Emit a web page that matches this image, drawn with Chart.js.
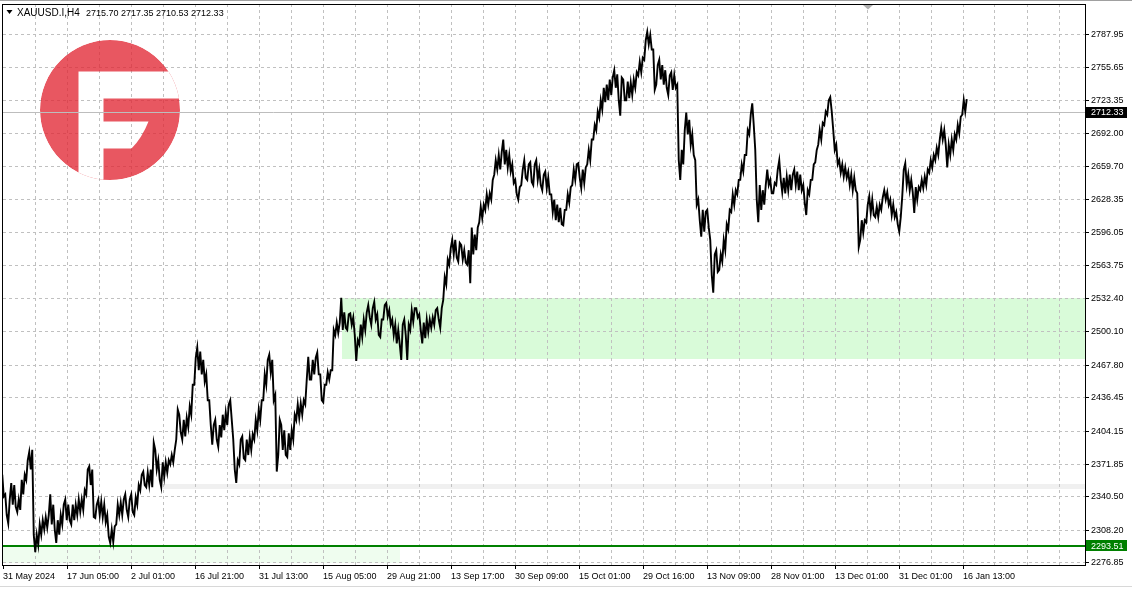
<!DOCTYPE html>
<html><head><meta charset="utf-8">
<script src="https://cdn.jsdelivr.net/npm/chart.js@4.4.1/dist/chart.umd.min.js"></script>
<style>html,body{margin:0;padding:0;background:#fff;overflow:hidden}#wrap{width:1132px;height:590px}</style>
</head><body><div id="wrap"><canvas id="c" width="1132" height="590"></canvas></div>
<script>
// ---------- data ----------
const symbol = 'XAUUSD.I,H4';
const headerOHLC = [2715.70, 2717.35, 2710.53, 2712.33];
const tickLabels = ['31 May 2024','17 Jun 05:00','2 Jul 01:00','16 Jul 21:00','31 Jul 13:00','15 Aug 05:00','29 Aug 21:00','13 Sep 17:00','30 Sep 09:00','15 Oct 01:00','29 Oct 16:00','13 Nov 09:00','28 Nov 01:00','13 Dec 01:00','31 Dec 01:00','16 Jan 13:00'];
const priceTicks = [2276.85,2308.20,2340.50,2371.85,2404.15,2436.45,2467.80,2500.10,2532.40,2563.75,2596.05,2628.35,2659.70,2692.00,2723.35,2755.65,2787.95];
const lows = [
2341,2323,2315,2333,2331,2326,2328,2343,2357,2367,
2304,2287,2294,2304,2309,2311,2314,2309,2296,2304,
2314,2318,2318,2314,2318,2323,2326,2328,2343,2352,
2321,2320,2323,2321,2316,2302,2296,2297,2314,2323,
2323,2328,2321,2326,2323,2333,2347,2352,2350,2352,
2350,2367,2357,2350,2360,2364,2372,2374,2396,2403,
2396,2399,2408,2420,2449,2463,2459,2452,2434,2410,
2391,2396,2389,2398,2405,2410,2415,2367,2354,2372,
2378,2376,2381,2386,2396,2405,2415,2434,2449,2461,
2434,2365,2381,2386,2381,2379,2386,2396,2415,2417,
2420,2430,2454,2454,2459,2459,2434,2432,2449,2454,
2463,2497,2499,2502,2504,2502,2507,2497,2472,2488,
2495,2502,2514,2507,2512,2497,2495,2512,2515,2507,
2497,2489,2488,2473,2497,2473,2502,2510,2514,2502,
2489,2494,2500,2504,2507,2512,2504,2531,2546,2565,
2575,2572,2568,2570,2567,2565,2547,2575,2579,2606,
2610,2618,2623,2628,2652,2657,2657,2662,2659,2655,
2644,2633,2628,2642,2649,2647,2645,2642,2647,2642,
2637,2639,2633,2616,2608,2606,2604,2603,2618,2625,
2642,2647,2649,2639,2644,2662,2666,2686,2695,2707,
2715,2722,2724,2729,2736,2724,2709,2724,2724,2726,
2729,2736,2748,2751,2763,2778,2773,2734,2739,2744,
2739,2736,2729,2734,2736,2666,2647,2662,2691,2681,
2671,2623,2608,2592,2597,2601,2555,2538,2558,2560,
2568,2579,2599,2616,2623,2633,2647,2655,2671,2691,
2700,2628,2606,2618,2623,2642,2634,2634,2642,2647,
2635,2634,2637,2637,2642,2637,2637,2625,2613,2633,
2647,2664,2681,2686,2700,2710,2713,2676,2662,2654,
2650,2649,2642,2637,2637,2582,2589,2596,2606,2615,
2613,2611,2611,2618,2628,2623,2613,2611,2604,2597,
2631,2642,2637,2635,2615,2628,2637,2639,2642,2654,
2659,2666,2671,2686,2681,2659,2671,2676,2686,2692,
2710,2713];
const highs = [
2362,2343,2338,2354,2352,2338,2357,2362,2376,2384,
2386,2304,2314,2318,2321,2323,2343,2333,2318,2323,
2333,2338,2333,2333,2333,2338,2338,2347,2367,2370,
2367,2333,2338,2336,2333,2323,2309,2312,2333,2335,
2338,2343,2338,2343,2340,2352,2362,2365,2364,2367,
2393,2386,2376,2374,2374,2376,2381,2386,2425,2420,
2415,2417,2428,2449,2475,2485,2481,2473,2459,2434,
2410,2415,2410,2420,2422,2430,2434,2396,2376,2396,
2399,2396,2398,2401,2415,2425,2434,2459,2473,2478,
2473,2439,2415,2410,2405,2402,2405,2420,2430,2431,
2434,2454,2476,2473,2475,2480,2459,2449,2461,2463,
2502,2509,2509,2533,2519,2517,2518,2514,2492,2507,
2512,2519,2526,2523,2529,2517,2512,2526,2528,2521,
2512,2507,2502,2507,2512,2507,2521,2523,2523,2517,
2509,2512,2512,2514,2521,2523,2523,2553,2570,2581,
2589,2589,2586,2584,2579,2579,2601,2594,2601,2621,
2623,2633,2634,2647,2666,2671,2674,2686,2676,2671,
2662,2647,2640,2657,2666,2662,2664,2662,2666,2657,
2652,2655,2649,2633,2628,2623,2620,2618,2633,2640,
2657,2662,2663,2657,2659,2676,2686,2700,2713,2724,
2736,2739,2744,2746,2753,2749,2746,2744,2742,2741,
2744,2751,2761,2765,2782,2790,2787,2773,2758,2763,
2758,2753,2748,2751,2748,2739,2676,2695,2712,2705,
2691,2666,2628,2618,2616,2618,2589,2575,2579,2575,
2589,2604,2618,2633,2637,2647,2662,2671,2695,2710,
2721,2676,2642,2637,2642,2657,2647,2644,2657,2666,
2649,2650,2652,2652,2657,2655,2652,2642,2637,2647,
2662,2676,2695,2702,2713,2724,2727,2695,2681,2666,
2662,2659,2655,2652,2649,2634,2608,2608,2623,2631,
2628,2621,2623,2630,2637,2635,2628,2623,2616,2611,
2657,2663,2652,2647,2640,2640,2647,2650,2657,2666,
2671,2678,2686,2697,2695,2681,2686,2691,2700,2708,
2724,2725];
const lastPrice = 2712.33;
const levelPrice = 2293.51;
const supplyZone = [2473.6, 2532.5];
const supplyZoneStartBar = 339;
const levelZone = [2277.0, 2293.51];
const levelZoneEndBar = 397;
const grayBand = [2348.2, 2353.0];
const grayBandStartBar = 160;

// ---------- layout constants ----------
const BARS_PER_SAMPLE = 3, GRID_STEP = 32, LABEL_STEP = 64, VISIBLE_BARS = 1082;
const FONT = 'Liberation Sans';
Chart.defaults.font.family = FONT;

// price path: each sample visits its low and high; order follows the direction of the next sample
const pathPoints = [];
lows.forEach((lo, i) => {
  const hi = highs[i];
  const nextMid = i + 1 < lows.length ? (lows[i + 1] + highs[i + 1]) / 2 : (lo + hi) / 2;
  const up = nextMid >= (lo + hi) / 2;
  const bar = i * BARS_PER_SAMPLE;
  pathPoints.push({x: bar - 0.75, y: up ? lo : hi});
  pathPoints.push({x: bar + 0.75, y: up ? hi : lo});
});

function drawLogo(ctx) {
  ctx.save();
  ctx.beginPath(); ctx.arc(110, 110, 70, 0, Math.PI * 2); ctx.clip();
  ctx.beginPath();
  ctx.arc(110, 110, 70, 0, Math.PI * 2);
  ctx.rect(78.5, 71.5, 25, 130);
  ctx.rect(103.5, 71.5, 90, 27);
  ctx.moveTo(103.5, 121.5); ctx.lineTo(148.5, 121.5);
  ctx.quadraticCurveTo(142, 138, 131.5, 148.5);
  ctx.lineTo(103.5, 148.5); ctx.closePath();
  ctx.fillStyle = 'rgba(226,40,52,0.78)';
  ctx.fill('evenodd');
  ctx.restore();
}

const decor = {
  id: 'decor',
  beforeDraw(chart) {
    const {ctx, chartArea: a, scales: {x, y}} = chart;
    ctx.save();
    ctx.fillStyle = '#fff'; ctx.fillRect(0, 0, chart.width, chart.height);
    ctx.beginPath(); ctx.rect(a.left, a.top, a.right - a.left, a.bottom - a.top); ctx.clip();
    const band = (x0, x1, p0, p1, col) => {
      const ya = Math.round(y.getPixelForValue(p1)), yb = Math.round(y.getPixelForValue(p0));
      ctx.fillStyle = col; ctx.fillRect(Math.round(x0), ya, Math.round(x1 - x0), yb - ya);
    };
    band(x.getPixelForValue(grayBandStartBar), a.right, grayBand[0], grayBand[1], '#f0f0f0');
    band(x.getPixelForValue(supplyZoneStartBar), a.right, supplyZone[0], supplyZone[1], '#d9fbd9');
    band(a.left, x.getPixelForValue(levelZoneEndBar), levelZone[0], levelZone[1], '#effdef');
    ctx.restore();
  },
  beforeDatasetsDraw(chart) {
    const {ctx, chartArea: a, scales: {y}} = chart;
    drawLogo(ctx);
    ctx.save();
    const yp = Math.round(y.getPixelForValue(lastPrice)) + 0.5;
    ctx.strokeStyle = '#bdbdbd'; ctx.lineWidth = 1;
    ctx.beginPath(); ctx.moveTo(a.left, yp); ctx.lineTo(a.right, yp); ctx.stroke();
    const yl = Math.round(y.getPixelForValue(levelPrice));
    ctx.strokeStyle = '#008000'; ctx.lineWidth = 2;
    ctx.beginPath(); ctx.moveTo(a.left, yl); ctx.lineTo(a.right, yl); ctx.stroke();
    ctx.restore();
  },
  afterDraw(chart) {
    const {ctx, chartArea: a, scales: {y}} = chart;
    ctx.save();
    ctx.fillStyle = '#a0a0a0'; ctx.fillRect(0, 0, chart.width, 1);
    ctx.fillStyle = '#d8d8d8'; ctx.fillRect(0, 586, chart.width, 1);
    ctx.strokeStyle = '#000'; ctx.lineWidth = 1;
    ctx.strokeRect(a.left - 0.5, a.top + 0.5, a.right - a.left + 1, a.bottom - a.top);
    const box = (price, bg) => {
      const yc = y.getPixelForValue(price);
      ctx.fillStyle = bg; ctx.fillRect(a.right + 1, Math.round(yc - 5.5), 41, 11);
      ctx.fillStyle = '#fff'; ctx.font = '9px ' + FONT; ctx.textBaseline = 'middle'; ctx.textAlign = 'left';
      ctx.fillText(price.toFixed(2), a.right + 6, yc + 0.5);
    };
    box(lastPrice, '#000');
    box(levelPrice, '#008000');
    ctx.fillStyle = '#000';
    ctx.beginPath(); ctx.moveTo(6.5, 10); ctx.lineTo(12.5, 10); ctx.lineTo(9.5, 14); ctx.closePath(); ctx.fill();
    ctx.textBaseline = 'alphabetic'; ctx.textAlign = 'left';
    ctx.font = '10px ' + FONT; ctx.fillText(symbol, 17, 16);
    ctx.font = '9px ' + FONT; ctx.fillText(headerOHLC.map(v => v.toFixed(2)).join(' '), 86, 16);
    ctx.fillStyle = '#b0b0b0';
    ctx.beginPath(); ctx.moveTo(863, 5); ctx.lineTo(873, 5); ctx.lineTo(868, 9.5); ctx.closePath(); ctx.fill();
    ctx.restore();
  }
};

new Chart(document.getElementById('c'), {
  type: 'line',
  data: {datasets: [{data: pathPoints, borderColor: '#000', borderWidth: 1.9, pointRadius: 0, tension: 0, fill: false}]},
  options: {
    responsive: false, animation: false, devicePixelRatio: 1, events: [],
    layout: {padding: {left: 3, top: 4, right: 0, bottom: 0}},
    plugins: {legend: {display: false}, tooltip: {enabled: false}},
    scales: {
      x: {
        type: 'linear', min: 0, max: VISIBLE_BARS, offset: false,
        afterBuildTicks: s => { const t = []; for (let v = 0; v < VISIBLE_BARS - GRID_STEP / 2; v += GRID_STEP) t.push({value: v}); s.ticks = t; },
        afterFit: s => { s.height = 25; s.paddingLeft = 0; s.paddingRight = 0; },
        grid: {
          offset: false, lineWidth: 1, tickLength: 4, drawTicks: true,
          color: c => (c.tick && c.tick.value === 0) ? 'rgba(0,0,0,0)' : '#c0c0c0',
          tickColor: c => (c.tick && c.tick.value % LABEL_STEP === 0 && tickLabels[c.tick.value / LABEL_STEP]) ? '#000' : 'rgba(0,0,0,0)'
        },
        border: {display: false, dash: [3, 3]},
        ticks: {autoSkip: false, maxRotation: 0, minRotation: 0, align: 'start', padding: 2, color: '#000',
          font: {family: FONT, size: 9},
          callback: v => v % LABEL_STEP === 0 ? (tickLabels[v / LABEL_STEP] || '') : ''}
      },
      y: {
        type: 'linear', position: 'right', min: 2274.7, max: 2817.0,
        afterBuildTicks: s => { s.ticks = priceTicks.map(v => ({value: v})); },
        afterFit: s => { s.width = 47; s.paddingTop = 0; s.paddingBottom = 0; },
        grid: {color: '#c0c0c0', tickLength: 4, tickColor: '#000'},
        border: {display: false, dash: [3, 3]},
        ticks: {padding: 2, color: '#000', font: {family: FONT, size: 9}, callback: v => v.toFixed(2)}
      }
    }
  },
  plugins: [decor]
});
</script></body></html>
